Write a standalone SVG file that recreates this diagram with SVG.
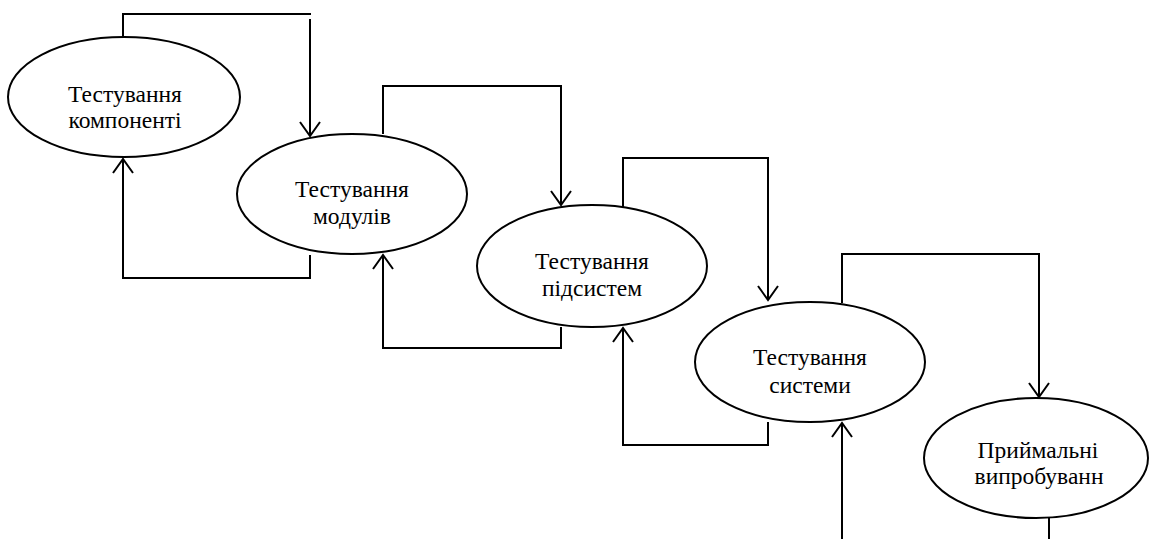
<svg xmlns="http://www.w3.org/2000/svg" width="1150" height="539" viewBox="0 0 1150 539">
<style>
.node ellipse{fill:#fff;stroke:#000;stroke-width:2}
.node text{font-size:23.5px;fill:#000;text-anchor:middle}
.conn path{fill:none;stroke:#000;stroke-width:2}
</style>
<defs>
<marker id="arr" markerUnits="userSpaceOnUse" viewBox="-16 -12 18 24" markerWidth="18" markerHeight="24" refX="0" refY="0" orient="auto" overflow="visible">
<path d="M-14,-10 L0,0 L-14,10" fill="none" stroke="#000" stroke-width="2"/>
</marker>
</defs>
<rect width="1150" height="539" fill="#fff"/>
<g id="connectors" class="conn">
<path d="M123,37 V14 H311"/>
<path d="M310,19 V136" marker-end="url(#arr)"/>
<path d="M310,255 V278 H123 V159" marker-end="url(#arr)"/>
<path d="M383,134 V86 H561 V205" marker-end="url(#arr)"/>
<path d="M561,327 V348 H383 V255" marker-end="url(#arr)"/>
<path d="M623,207 V158 H768 V300" marker-end="url(#arr)"/>
<path d="M768,422 V445 H623 V328" marker-end="url(#arr)"/>
<path d="M842,303 V254 H1039 V397" marker-end="url(#arr)"/>
<path d="M842,539 V423" marker-end="url(#arr)"/>
<path d="M1049,518 V539"/>
</g>
<g id="n1" class="node" font-family="Liberation Serif, serif">
<ellipse cx="124" cy="97" rx="116" ry="60"/>
<text x="125" y="102">Тестування</text>
<text x="125" y="128">компоненті</text>
</g>
<g id="n2" class="node" font-family="Liberation Serif, serif">
<ellipse cx="352" cy="194" rx="115" ry="60"/>
<text x="352" y="197">Тестування</text>
<text x="352" y="224">модулів</text>
</g>
<g id="n3" class="node" font-family="Liberation Serif, serif">
<ellipse cx="592" cy="266" rx="115" ry="61"/>
<text x="592" y="269">Тестування</text>
<text x="592" y="296">підсистем</text>
</g>
<g id="n4" class="node" font-family="Liberation Serif, serif">
<ellipse cx="810" cy="362" rx="115" ry="60"/>
<text x="810" y="365">Тестування</text>
<text x="810" y="393">системи</text>
</g>
<g id="n5" class="node" font-family="Liberation Serif, serif">
<ellipse cx="1036" cy="458" rx="112" ry="60"/>
<text x="1038" y="458">Приймальні</text>
<text x="1039" y="484">випробуванн</text>
</g>
</svg>
